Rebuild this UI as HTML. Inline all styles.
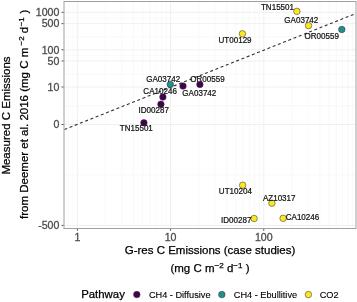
<!DOCTYPE html>
<html><head><meta charset="utf-8"><title>plot</title>
<style>html,body{margin:0;padding:0;background:#fff}svg{display:block}text{font-family:"Liberation Sans",Arial,sans-serif}</style>
</head><body>
<svg width="357" height="302" viewBox="0 0 357 302">
<rect width="357" height="302" fill="#fff"/>
<g stroke="#f3f3f3" stroke-width="0.5" fill="none">
<line x1="64.0" x2="356.0" y1="174.93" y2="174.93"/>
<line x1="64.0" x2="356.0" y1="105.74" y2="105.74"/>
<line x1="64.0" x2="356.0" y1="73.99" y2="73.99"/>
<line x1="64.0" x2="356.0" y1="55.38" y2="55.38"/>
<line x1="64.0" x2="356.0" y1="36.70" y2="36.70"/>
<line x1="64.0" x2="356.0" y1="18.01" y2="18.01"/>
<line y1="1.5" y2="228.5" x1="68.32" x2="68.32"/>
<line y1="1.5" y2="228.5" x1="73.09" x2="73.09"/>
<line y1="1.5" y2="228.5" x1="105.41" x2="105.41"/>
<line y1="1.5" y2="228.5" x1="121.82" x2="121.82"/>
<line y1="1.5" y2="228.5" x1="133.46" x2="133.46"/>
<line y1="1.5" y2="228.5" x1="142.49" x2="142.49"/>
<line y1="1.5" y2="228.5" x1="149.87" x2="149.87"/>
<line y1="1.5" y2="228.5" x1="156.11" x2="156.11"/>
<line y1="1.5" y2="228.5" x1="161.52" x2="161.52"/>
<line y1="1.5" y2="228.5" x1="166.29" x2="166.29"/>
<line y1="1.5" y2="228.5" x1="198.61" x2="198.61"/>
<line y1="1.5" y2="228.5" x1="215.02" x2="215.02"/>
<line y1="1.5" y2="228.5" x1="226.66" x2="226.66"/>
<line y1="1.5" y2="228.5" x1="235.69" x2="235.69"/>
<line y1="1.5" y2="228.5" x1="243.07" x2="243.07"/>
<line y1="1.5" y2="228.5" x1="249.31" x2="249.31"/>
<line y1="1.5" y2="228.5" x1="254.72" x2="254.72"/>
<line y1="1.5" y2="228.5" x1="259.49" x2="259.49"/>
<line y1="1.5" y2="228.5" x1="291.81" x2="291.81"/>
<line y1="1.5" y2="228.5" x1="308.22" x2="308.22"/>
<line y1="1.5" y2="228.5" x1="319.86" x2="319.86"/>
<line y1="1.5" y2="228.5" x1="328.89" x2="328.89"/>
<line y1="1.5" y2="228.5" x1="336.27" x2="336.27"/>
<line y1="1.5" y2="228.5" x1="342.51" x2="342.51"/>
<line y1="1.5" y2="228.5" x1="347.92" x2="347.92"/>
<line y1="1.5" y2="228.5" x1="352.69" x2="352.69"/>
</g>
<g stroke="#eeeeee" stroke-width="0.9" fill="none">
<line x1="64.0" x2="356.0" y1="225.36" y2="225.36"/>
<line x1="64.0" x2="356.0" y1="124.50" y2="124.50"/>
<line x1="64.0" x2="356.0" y1="86.97" y2="86.97"/>
<line x1="64.0" x2="356.0" y1="61.00" y2="61.00"/>
<line x1="64.0" x2="356.0" y1="49.76" y2="49.76"/>
<line x1="64.0" x2="356.0" y1="23.64" y2="23.64"/>
<line x1="64.0" x2="356.0" y1="12.39" y2="12.39"/>
<line y1="1.5" y2="228.5" x1="77.35" x2="77.35"/>
<line y1="1.5" y2="228.5" x1="170.55" x2="170.55"/>
<line y1="1.5" y2="228.5" x1="263.75" x2="263.75"/>
</g>
<line x1="64.0" y1="129.67" x2="356.0" y2="13.45" stroke="#303030" stroke-width="1.1" stroke-dasharray="3.0 2.605" stroke-dashoffset="-0.4"/>
<g stroke="#333" stroke-width="0.55">
<circle cx="143.9" cy="122.8" r="3.25" fill="#440154"/>
<circle cx="160.9" cy="104.2" r="3.25" fill="#440154"/>
<circle cx="162.9" cy="97.0" r="3.25" fill="#440154"/>
<circle cx="183.0" cy="86.1" r="3.25" fill="#440154"/>
<circle cx="199.9" cy="84.4" r="3.25" fill="#440154"/>
<circle cx="170.3" cy="84.4" r="3.25" fill="#21908C"/>
<circle cx="341.8" cy="29.5" r="3.25" fill="#21908C"/>
<circle cx="296.9" cy="11.35" r="3.25" fill="#FDE725"/>
<circle cx="308.5" cy="25.6" r="3.25" fill="#FDE725"/>
<circle cx="242.4" cy="33.8" r="3.25" fill="#FDE725"/>
<circle cx="242.7" cy="185.2" r="3.25" fill="#FDE725"/>
<circle cx="271.9" cy="203.2" r="3.25" fill="#FDE725"/>
<circle cx="254.1" cy="218.5" r="3.25" fill="#FDE725"/>
<circle cx="283.1" cy="218.3" r="3.25" fill="#FDE725"/>
</g>
<g font-size="8.4px" fill="#111" stroke="#111" stroke-width="0.22" text-anchor="middle">
<text transform="translate(136.3,131.1) scale(0.958,1)">TN15501</text>
<text transform="translate(153.7,112.9) scale(0.958,1)">ID00287</text>
<text transform="translate(160.1,94.1) scale(0.958,1)">CA10246</text>
<text transform="translate(163.2,81.9) scale(0.958,1)">GA03742</text>
<text transform="translate(199.3,95.7) scale(0.958,1)">GA03742</text>
<text transform="translate(207.5,81.8) scale(0.958,1)">OR00559</text>
<text transform="translate(277.5,9.9) scale(0.958,1)">TN15501</text>
<text transform="translate(301.3,22.9) scale(0.958,1)">GA03742</text>
<text transform="translate(321.75,38.6) scale(0.958,1)">OR00559</text>
<text transform="translate(235.05,43.0) scale(0.958,1)">UT00129</text>
<text transform="translate(235.4,193.9) scale(0.958,1)">UT10204</text>
<text transform="translate(279.2,200.5) scale(0.958,1)">AZ10317</text>
<text transform="translate(236.2,222.8) scale(0.958,1)">ID00287</text>
<text transform="translate(302.5,219.8) scale(0.958,1)">CA10246</text>
</g>
<rect x="64.0" y="1.5" width="292.0" height="227.0" fill="none" stroke="#a0a0a0" stroke-width="1"/>
<g stroke="#444" stroke-width="0.9">
<line x1="61.5" x2="63.5" y1="225.36" y2="225.36"/>
<line x1="61.5" x2="63.5" y1="124.50" y2="124.50"/>
<line x1="61.5" x2="63.5" y1="86.97" y2="86.97"/>
<line x1="61.5" x2="63.5" y1="61.00" y2="61.00"/>
<line x1="61.5" x2="63.5" y1="49.76" y2="49.76"/>
<line x1="61.5" x2="63.5" y1="23.64" y2="23.64"/>
<line x1="61.5" x2="63.5" y1="12.39" y2="12.39"/>
<line y1="229.0" y2="230.8" x1="77.35" x2="77.35"/>
<line y1="229.0" y2="230.8" x1="170.55" x2="170.55"/>
<line y1="229.0" y2="230.8" x1="263.75" x2="263.75"/>
</g>
<g font-size="10.6px" fill="#4d4d4d" stroke="#4d4d4d" stroke-width="0.3">
<text x="59.4" y="229.16" text-anchor="end">-500</text>
<text x="59.4" y="128.30" text-anchor="end">0</text>
<text x="59.4" y="90.77" text-anchor="end">10</text>
<text x="59.4" y="64.80" text-anchor="end">50</text>
<text x="59.4" y="53.56" text-anchor="end">100</text>
<text x="59.4" y="27.44" text-anchor="end">500</text>
<text x="59.4" y="16.19" text-anchor="end">1000</text>
<text x="77.35" y="241.1" text-anchor="middle">1</text>
<text x="170.55" y="241.1" text-anchor="middle">10</text>
<text x="263.75" y="241.1" text-anchor="middle">100</text>
</g>
<g font-size="11.5px" fill="#000" stroke="#000" stroke-width="0.25">
<text x="210.0" y="253.9" text-anchor="middle">G-res C Emissions (case studies)</text>
<text x="210.0" y="272.3" text-anchor="middle">(mg C m<tspan font-size="8.05px" dy="-4.2">−2</tspan><tspan dy="4.2"> d</tspan><tspan font-size="8.05px" dy="-4.2">−1</tspan><tspan dy="4.2"> )</tspan></text>
<text transform="translate(10.0,115.5) rotate(-90)" text-anchor="middle">Measured C Emissions</text>
<text transform="translate(28.3,114.3) rotate(-90)" text-anchor="middle">from Deemer et al. 2016 (mg C m<tspan font-size="8.05px" dy="-4.2" dx="2.2">−2</tspan><tspan dy="4.2"> d</tspan><tspan font-size="8.05px" dy="-4.2" dx="0.4">−1</tspan><tspan dy="4.2" dx="0.5"> )</tspan></text>
</g>
<text x="81.2" y="298.0" font-size="11.4px" fill="#000" stroke="#000" stroke-width="0.25">Pathway</text>
<g stroke="#333" stroke-width="0.55">
<circle cx="136.8" cy="294.6" r="3.25" fill="#440154"/>
<circle cx="221.8" cy="294.6" r="3.25" fill="#21908C"/>
<circle cx="308.4" cy="294.6" r="3.25" fill="#FDE725"/>
</g>
<g font-size="9.2px" fill="#000" stroke="#000" stroke-width="0.12">
<text x="148.9" y="298.2">CH4 - Diffusive</text>
<text x="233.8" y="298.2">CH4 - Ebullitive</text>
<text x="319.7" y="298.2">CO2</text>
</g>
</svg></body></html>
